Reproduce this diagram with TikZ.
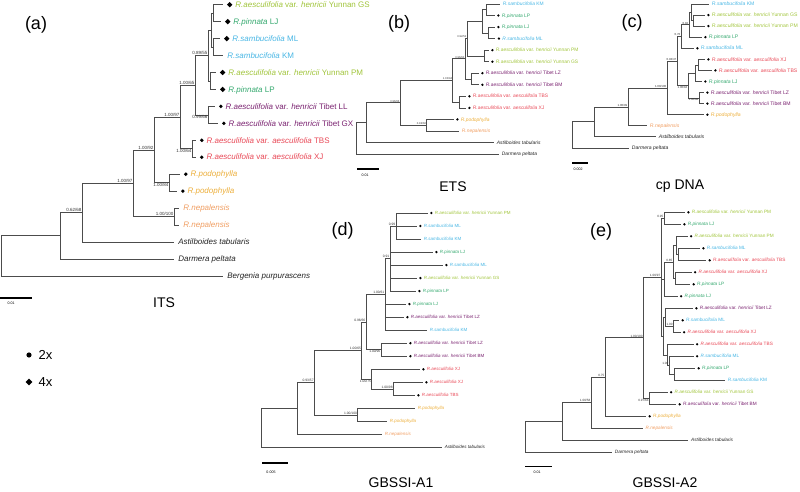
\documentclass[tikz,border=0pt]{standalone}
\usepackage{fontspec}
\setmainfont{Liberation Sans}
\usepackage{tikz}
\usetikzlibrary{positioning}
\usetikzlibrary{shapes.geometric}
\definecolor{cyu}{RGB}{160,196,58}
\definecolor{cpi}{RGB}{52,168,110}
\definecolor{csa}{RGB}{72,182,228}
\definecolor{cti}{RGB}{122,34,112}
\definecolor{cae}{RGB}{232,72,86}
\definecolor{cpo}{RGB}{236,174,58}
\definecolor{cne}{RGB}{240,158,98}
\definecolor{cog}{RGB}{35,35,35}
\tikzset{br/.style = {draw = black!70, line width = 0.6pt}}
\tikzset{tipn/.style = {inner sep = 0, minimum size = 0}}
\tikzset{circ/.style = {fill, circle, inner sep = 0, minimum size = 3.8}}
\tikzset{dmd/.style = {fill, diamond, inner sep = 0, minimum size = 5.6}}
\tikzset{sdot/.style = {fill, circle, inner sep = 0, minimum size = 2.6}}
\tikzset{leaf/.style = {inner sep = 0, text depth = 0pt}}
\tikzset{labA/.style = {leaf, text height = 5.4pt, font = \fontsize{8}{9}\selectfont},
         labB/.style = {leaf, text height = 3.3pt, font = \fontsize{4.9}{5.5}\selectfont},
         labC/.style = {leaf, text height = 3.4pt, font = \fontsize{5.1}{5.7}\selectfont},
         labD/.style = {leaf, text height = 3.0pt, font = \fontsize{4.5}{5}\selectfont},
         labE/.style = {leaf, text height = 3.2pt, font = \fontsize{4.7}{5.2}\selectfont}}
\tikzset{cyu/.style = {text = cyu}, cpi/.style = {text = cpi}, csa/.style = {text = csa},
         cti/.style = {text = cti}, cae/.style = {text = cae}, cpo/.style = {text = cpo},
         cne/.style = {text = cne}, cog/.style = {text = cog}}
\tikzset{bs/.style = {inner sep = 0.5pt, text = black!80}}
\tikzset{bsA/.style = {bs, font = \fontsize{4.5}{5}\selectfont},
         bsB/.style = {bs, font = \fontsize{2.7}{3}\selectfont},
         bsC/.style = {bs, font = \fontsize{2.9}{3.2}\selectfont},
         bsD/.style = {bs, font = \fontsize{3.3}{3.6}\selectfont},
         bsE/.style = {bs, font = \fontsize{3.1}{3.4}\selectfont}}
\tikzset{sbar/.style = {line width = 1.1pt}}
\tikzset{sbl/.style = {inner sep = 0, font = \fontsize{3.6}{4}\selectfont}}
\tikzset{ttl/.style = {inner sep = 0, font = \fontsize{14}{16}\selectfont}}
\tikzset{pnl/.style = {inner sep = 0, font = \fontsize{18}{20}\selectfont}}
\newcommand{\henr}[1]{\textit{R.aesculifolia} var. \textit{henricii} #1}
\newcommand{\aesc}[1]{\textit{R.aesculifolia} var. \textit{aesculifolia} #1}
\newcommand{\pinn}[1]{\textit{R.pinnata} #1}
\newcommand{\samb}[1]{\textit{R.sambucifolia} #1}
\newcommand{\podo}{\textit{R.podophylla}}
\newcommand{\nepa}{\textit{R.nepalensis}}
\newcommand{\mleaf}[5]{\node [tipn] (#1) at (#2) {};
  \node [#3, right = \mgap of #1] (#1m) {};
  \node [#4, right = \lgap of #1m] (#1t) {#5};}
\newcommand{\nleaf}[4]{\node [tipn] (#1) at (#2) {};
  \node [#3, right = \ngap of #1] (#1t) {#4};}

\begin{document}
\begin{tikzpicture}[x = 1pt, y = -1pt]
  \useasboundingbox (0, 0) rectangle (800, 492);

  % (a) ITS
  \def\mgap{3.5pt}\def\lgap{2.5pt}\def\ngap{4pt}
  \mleaf{a1}{223, 4.7}{dmd}{labA, cyu}{\henr{Yunnan GS}}
  \mleaf{a2}{221, 21.65}{dmd}{labA, cpi}{\pinn{LJ}}
  \mleaf{a3}{220, 38.6}{dmd}{labA, csa}{\samb{ML}}
  \nleaf{a4}{223, 55.55}{labA, csa}{\samb{KM}}
  \mleaf{a5}{216, 72.5}{dmd}{labA, cyu}{\henr{Yunnan PM}}
  \mleaf{a6}{216, 89.45}{dmd}{labA, cpi}{\pinn{LP}}
  \mleaf{a7}{215, 106.4}{circ}{labA, cti}{\henr{Tibet LL}}
  \mleaf{a8}{218, 123.35}{circ}{labA, cti}{\henr{Tibet GX}}
  \mleaf{a9}{196, 140.3}{circ}{labA, cae}{\aesc{TBS}}
  \mleaf{a10}{196, 157.25}{circ}{labA, cae}{\aesc{XJ}}
  \mleaf{a11}{180, 174.2}{circ}{labA, cpo}{\podo}
  \mleaf{a12}{177, 191.15}{circ}{labA, cpo}{\podo}
  \nleaf{a13}{179, 208.1}{labA, cne}{\nepa}
  \nleaf{a14}{179, 225.05}{labA, cne}{\nepa}
  \nleaf{a15}{174, 242}{labA, cog}{\textit{Astilboides tabularis}}
  \nleaf{a16}{174, 258.95}{labA, cog}{\textit{Darmera peltata}}
  \nleaf{a17}{223, 275.9}{labA, cog}{\textit{Bergenia purpurascens}}
  \coordinate (aN1) at (213, 13.2);
  \coordinate (aN2) at (213, 47.1);
  \coordinate (aN3) at (211, 30.15);
  \coordinate (aN4) at (210, 81);
  \coordinate (aN5) at (208, 55.6);
  \coordinate (aN6) at (208, 114.9);
  \coordinate (aN7) at (195, 85.25);
  \coordinate (aN8) at (192, 148.8);
  \coordinate (aN9) at (180, 117);
  \coordinate (aN10) at (169, 182.7);
  \coordinate (aN11) at (154, 149.85);
  \coordinate (aN12) at (174, 216.6);
  \coordinate (aN13) at (133, 183.2);
  \coordinate (aN14) at (82, 212.6);
  \coordinate (aN15) at (60, 235.8);
  \coordinate (aN16) at (1, 255.85);
  \draw [br, line width = 0.7pt] (aN1) |- (a1) (aN1) |- (a2);
  \draw [br, line width = 0.7pt] (aN2) |- (a3) (aN2) |- (a4);
  \draw [br, line width = 0.7pt] (aN3) |- (aN1) (aN3) |- (aN2);
  \draw [br, line width = 0.7pt] (aN4) |- (a5) (aN4) |- (a6);
  \draw [br, line width = 0.7pt] (aN5) |- (aN3) (aN5) |- (aN4);
  \draw [br, line width = 0.7pt] (aN6) |- (a7) (aN6) |- (a8);
  \draw [br, line width = 0.7pt] (aN7) |- (aN5) (aN7) |- (aN6);
  \draw [br, line width = 0.7pt] (aN8) |- (a9) (aN8) |- (a10);
  \draw [br, line width = 0.7pt] (aN9) |- (aN7) (aN9) |- (aN8);
  \draw [br, line width = 0.7pt] (aN10) |- (a11) (aN10) |- (a12);
  \draw [br, line width = 0.7pt] (aN11) |- (aN9) (aN11) |- (aN10);
  \draw [br, line width = 0.7pt] (aN12) |- (a13) (aN12) |- (a14);
  \draw [br, line width = 0.7pt] (aN13) |- (aN11) (aN13) |- (aN12);
  \draw [br, line width = 0.7pt] (aN14) |- (aN13) (aN14) |- (a15);
  \draw [br, line width = 0.7pt] (aN15) |- (aN14) (aN15) |- (a16);
  \draw [br, line width = 0.7pt] (aN16) |- (aN15) (aN16) |- (a17);
  \node [bsA, above left] (aN5b) at (aN5) {0.89/55};
  \node [bsA, below left] (aN6b) at (aN6) {0.99/66};
  \node [bsA, above left] (aN7b) at (aN7) {1.00/65};
  \node [bsA, below left] (aN8b) at (aN8) {1.00/64};
  \node [bsA, above left] (aN9b) at (aN9) {1.00/97};
  \node [bsA, below left] (aN10b) at (aN10) {1.00/84};
  \node [bsA, above left] (aN11b) at (aN11) {1.00/92};
  \node [bsA, above left] (aN12b) at (aN12) {1.00/100};
  \node [bsA, above left] (aN13b) at (aN13) {1.00/97};
  \node [bsA, above left] (aN14b) at (aN14) {0.62/68};
  \coordinate (aS1) at (0, 298);
  \coordinate (aS2) at (32, 298);
  \draw [sbar] (aS1) -- (aS2);
  \node [sbl, anchor = north west] (aSt) at (7.5, 302) {0.01};
  \node [ttl] (aT) at (164, 303) {ITS};
  \node [pnl] (aP) at (36, 25) {(a)};

  % legend
  \node [circ, minimum size = 5.2] (k1) at (29, 355) {};
  \node [inner sep = 0, anchor = west, font = \fontsize{13}{15}\selectfont] (k1t) at (38.5, 355) {2x};
  \node [dmd, minimum size = 7] (k2) at (29, 382) {};
  \node [inner sep = 0, anchor = west, font = \fontsize{13}{15}\selectfont] (k2t) at (38.5, 382) {4x};

  % (b) ETS
  \def\mgap{1.7pt}\def\lgap{1.8pt}\def\ngap{2.5pt}
  \nleaf{b1}{500, 4}{labB, csa}{\samb{KM}}
  \mleaf{b2}{495, 15.5}{sdot}{labB, cpi}{\pinn{LP}}
  \mleaf{b3}{495, 27.1}{sdot}{labB, cpi}{\pinn{LJ}}
  \mleaf{b4}{495.5, 38.6}{sdot}{labB, csa}{\samb{ML}}
  \mleaf{b5}{489, 50.2}{sdot}{labB, cyu}{\henr{Yunnan PM}}
  \mleaf{b6}{489, 61.7}{sdot}{labB, cyu}{\henr{Yunnan GS}}
  \mleaf{b7}{479, 73.2}{sdot}{labB, cti}{\henr{Tibet LZ}}
  \mleaf{b8}{479, 84.8}{sdot}{labB, cti}{\henr{Tibet BM}}
  \mleaf{b9}{466, 96.3}{sdot}{labB, cae}{\aesc{TBS}}
  \mleaf{b10}{466, 107.9}{sdot}{labB, cae}{\aesc{XJ}}
  \mleaf{b11}{454, 119.4}{sdot}{labB, cpo}{\podo}
  \nleaf{b12}{459, 130.9}{labB, cne}{\nepa}
  \nleaf{b13}{494, 142.5}{labB, cog}{\textit{Astilboides tabularis}}
  \nleaf{b14}{499, 154}{labB, cog}{\textit{Darmera peltata}}
  \coordinate (bN1) at (486.7, 9.75);
  \coordinate (bN2) at (488.3, 32.85);
  \coordinate (bN3) at (482, 21.3);
  \coordinate (bN4) at (484.3, 55.95);
  \coordinate (bN5) at (467, 38.6);
  \coordinate (bN6) at (471.7, 79);
  \coordinate (bN7) at (465, 58.8);
  \coordinate (bN8) at (459.3, 102.1);
  \coordinate (bN9) at (452.7, 80.45);
  \coordinate (bN10) at (426.7, 125.15);
  \coordinate (bN11) at (400, 102.8);
  \coordinate (bN12) at (366, 122.65);
  \coordinate (bN13) at (356.7, 138.3);
  \draw [br] (bN1) |- (b1) (bN1) |- (b2);
  \draw [br] (bN2) |- (b3) (bN2) |- (b4);
  \draw [br] (bN3) |- (bN1) (bN3) |- (bN2);
  \draw [br] (bN4) |- (b5) (bN4) |- (b6);
  \draw [br] (bN5) |- (bN3) (bN5) |- (bN4);
  \draw [br] (bN6) |- (b7) (bN6) |- (b8);
  \draw [br] (bN7) |- (bN5) (bN7) |- (bN6);
  \draw [br] (bN8) |- (b9) (bN8) |- (b10);
  \draw [br] (bN9) |- (bN7) (bN9) |- (bN8);
  \draw [br] (bN10) |- (b11) (bN10) |- (b12);
  \draw [br] (bN11) |- (bN9) (bN11) |- (bN10);
  \draw [br] (bN12) |- (bN11) (bN12) |- (b13);
  \draw [br] (bN13) |- (bN12) (bN13) |- (b14);
  \node [bsB, above left] (bN5b) at (bN5) {0.92/52};
  \node [bsB, above left] (bN7b) at (bN7) {0.96/60};
  \node [bsB, above left] (bN9b) at (bN9) {1.00/94};
  \node [bsB, above left] (bN10b) at (bN10) {0.92/60};
  \node [bsB, above left] (bN11b) at (bN11) {0.96/95};
  \coordinate (bS1) at (357, 169);
  \coordinate (bS2) at (379, 169);
  \draw [sbar] (bS1) -- (bS2);
  \node [sbl] (bSt) at (365, 175) {0.01};
  \node [ttl] (bT) at (453, 187) {ETS};
  \node [pnl] (bP) at (399, 24) {(b)};

  % (c) cp DNA
  \nleaf{c1}{709, 4}{labC, csa}{\samb{KM}}
  \mleaf{c2}{705, 15.1}{sdot}{labC, cyu}{\henr{Yunnan GS}}
  \mleaf{c3}{705, 26.1}{sdot}{labC, cyu}{\henr{Yunnan PM}}
  \mleaf{c4}{702, 37.2}{sdot}{labC, cpi}{\pinn{LP}}
  \mleaf{c5}{694, 48.3}{sdot}{labC, csa}{\samb{ML}}
  \mleaf{c6}{705, 59.4}{sdot}{labC, cae}{\aesc{XJ}}
  \mleaf{c7}{712, 70.4}{sdot}{labC, cae}{\aesc{TBS}}
  \mleaf{c8}{702, 81.5}{sdot}{labC, cpi}{\pinn{LJ}}
  \mleaf{c9}{704, 92.6}{sdot}{labC, cti}{\henr{Tibet LZ}}
  \mleaf{c10}{704, 103.6}{sdot}{labC, cti}{\henr{Tibet BM}}
  \mleaf{c11}{704, 114.7}{sdot}{labC, cpo}{\podo}
  \nleaf{c12}{647, 125.8}{labC, cne}{\nepa}
  \nleaf{c13}{656, 136.8}{labC, cog}{\textit{Astilboides tabularis}}
  \nleaf{c14}{629, 147.9}{labC, cog}{\textit{Darmera peltata}}
  \coordinate (cN1) at (693, 20.6);
  \coordinate (cN2) at (691, 12.3);
  \coordinate (cN3) at (689, 24.75);
  \coordinate (cN4) at (681, 36.5);
  \coordinate (cN5) at (698, 64.9);
  \coordinate (cN6) at (695, 73.2);
  \coordinate (cN7) at (699, 98.1);
  \coordinate (cN8) at (688, 85.65);
  \coordinate (cN9) at (677, 61.1);
  \coordinate (cN10) at (667, 87.9);
  \coordinate (cN11) at (628, 106.85);
  \coordinate (cN12) at (594, 121.8);
  \coordinate (cN13) at (572, 134.85);
  \draw [br] (cN1) |- (c2) (cN1) |- (c3);
  \draw [br] (cN2) |- (c1) (cN2) |- (cN1);
  \draw [br] (cN3) |- (cN2) (cN3) |- (c4);
  \draw [br] (cN4) |- (cN3) (cN4) |- (c5);
  \draw [br] (cN5) |- (c6) (cN5) |- (c7);
  \draw [br] (cN6) |- (cN5) (cN6) |- (c8);
  \draw [br] (cN7) |- (c9) (cN7) |- (c10);
  \draw [br] (cN8) |- (cN6) (cN8) |- (cN7);
  \draw [br] (cN9) |- (cN4) (cN9) |- (cN8);
  \draw [br] (cN10) |- (cN9) (cN10) |- (c11);
  \draw [br] (cN11) |- (cN10) (cN11) |- (c12);
  \draw [br] (cN12) |- (cN11) (cN12) |- (c13);
  \draw [br] (cN13) |- (cN12) (cN13) |- (c14);
  \node [bsC, above left] (cN3b) at (cN3) {0.82};
  \node [bsC, above left] (cN4b) at (cN4) {0.76};
  \node [bsC, below left] (cN7b) at (cN7) {1.00/98};
  \node [bsC, below left] (cN8b) at (cN8) {1.00/84};
  \node [bsC, above left] (cN9b) at (cN9) {0.93/47};
  \node [bsC, above left] (cN10b) at (cN10) {1.00/100};
  \node [bsC, above left] (cN11b) at (cN11) {1.00/99};
  \coordinate (cS1) at (572, 163);
  \coordinate (cS2) at (588, 163);
  \draw [sbar] (cS1) -- (cS2);
  \node [sbl] (cSt) at (578, 169) {0.002};
  \node [ttl] (cT) at (680, 186) {cp DNA};
  \node [pnl] (cP) at (632, 23) {(c)};

  % (d) GBSSI-A1
  \mleaf{d1}{428, 213}{sdot}{labD, cyu}{\henr{Yunnan PM}}
  \mleaf{d2}{417, 226}{sdot}{labD, csa}{\samb{ML}}
  \nleaf{d3}{421, 239.1}{labD, csa}{\samb{KM}}
  \mleaf{d4}{433, 252.1}{sdot}{labD, cpi}{\pinn{LJ}}
  \mleaf{d5}{443, 265.1}{sdot}{labD, csa}{\samb{ML}}
  \mleaf{d6}{417, 278.1}{sdot}{labD, cyu}{\henr{Yunnan GS}}
  \mleaf{d7}{416, 291.1}{sdot}{labD, cpi}{\pinn{LP}}
  \mleaf{d8}{406, 304.1}{sdot}{labD, cpi}{\pinn{LJ}}
  \mleaf{d9}{404, 317.2}{sdot}{labD, cti}{\henr{Tibet LZ}}
  \nleaf{d10}{427, 330.2}{labD, csa}{\samb{KM}}
  \mleaf{d11}{407, 343.2}{sdot}{labD, cti}{\henr{Tibet LZ}}
  \mleaf{d12}{407, 356.2}{sdot}{labD, cti}{\henr{Tibet BM}}
  \mleaf{d13}{420, 369.3}{sdot}{labD, cae}{\textit{R.aesculifolia} XJ}
  \mleaf{d14}{423, 382.3}{sdot}{labD, cae}{\textit{R.aesculifolia} XJ}
  \mleaf{d15}{415, 395.3}{sdot}{labD, cae}{\textit{R.aesculifolia} TBS}
  \nleaf{d16}{415, 408.3}{labD, cpo}{\podo}
  \nleaf{d17}{387, 421.3}{labD, cpo}{\podo}
  \nleaf{d18}{382, 434.4}{labD, cne}{\nepa}
  \nleaf{d19}{442, 447.4}{labD, cog}{\textit{Astilboides tabularis}}
  \coordinate (dN1) at (396, 226.05);
  \coordinate (dN2) at (390, 258.6);
  \coordinate (dN3) at (385, 294.4);
  \coordinate (dN4) at (381, 349.7);
  \coordinate (dN5) at (366, 322.05);
  \coordinate (dN6) at (393.3, 388.8);
  \coordinate (dN7) at (371.7, 379.05);
  \coordinate (dN8) at (361.7, 350.55);
  \coordinate (dN9) at (357.7, 414.8);
  \coordinate (dN10) at (314.3, 382.7);
  \coordinate (dN11) at (297.7, 408.55);
  \coordinate (dN12) at (261.7, 427.95);
  \draw [br] (dN1) |- (d1) (dN1) |- (d2) (dN1) |- (d3);
  \draw [br] (dN2) |- (dN1) (dN2) |- (d4) (dN2) |- (d5) (dN2) |- (d6) (dN2) |- (d7);
  \draw [br] (dN3) |- (dN2) (dN3) |- (d8) (dN3) |- (d9) (dN3) |- (d10);
  \draw [br] (dN4) |- (d11) (dN4) |- (d12);
  \draw [br] (dN5) |- (dN3) (dN5) |- (dN4);
  \draw [br] (dN6) |- (d14) (dN6) |- (d15);
  \draw [br] (dN7) |- (d13) (dN7) |- (dN6);
  \draw [br] (dN8) |- (dN5) (dN8) |- (dN7);
  \draw [br] (dN9) |- (d16) (dN9) |- (d17);
  \draw [br] (dN10) |- (dN8) (dN10) |- (dN9);
  \draw [br] (dN11) |- (dN10) (dN11) |- (d18);
  \draw [br] (dN12) |- (dN11) (dN12) |- (d19);
  \node [bsD, above left] (dN1b) at (dN1) {0.99};
  \node [bsD, above left] (dN2b) at (dN2) {0.91};
  \node [bsD, above left] (dN3b) at (dN3) {1.00/61};
  \node [bsD, below left] (dN4b) at (dN4) {1.00/96};
  \node [bsD, above left] (dN5b) at (dN5) {0.96/66};
  \node [bsD, above left] (dN6b) at (dN6) {1.00/98};
  \node [bsD, below left] (dN7b) at (dN7) {1.00/75};
  \node [bsD, above left] (dN8b) at (dN8) {1.00/65};
  \node [bsD, above left] (dN9b) at (dN9) {1.00/100};
  \node [bsD, above left] (dN10b) at (dN10) {0.93/57};
  \coordinate (dS1) at (262, 463);
  \coordinate (dS2) at (288, 463);
  \draw [sbar] (dS1) -- (dS2);
  \node [sbl] (dSt) at (271, 472.5) {0.005};
  \node [ttl] (dT) at (401, 482.5) {GBSSI-A1};
  \node [pnl] (dP) at (342.7, 230.7) {(d)};

  % (e) GBSSI-A2
  \mleaf{e1}{685, 212.3}{sdot}{labE, cyu}{\henr{Yunnan PM}}
  \mleaf{e2}{681, 224.3}{sdot}{labE, cpi}{\pinn{LJ}}
  \mleaf{e3}{687.7, 236.3}{sdot}{labE, cyu}{\henr{Yunnan PM}}
  \mleaf{e4}{700, 248.3}{sdot}{labE, csa}{\samb{ML}}
  \mleaf{e5}{706.3, 260.3}{sdot}{labE, cae}{\aesc{TBS}}
  \mleaf{e6}{691.7, 272.3}{sdot}{labE, cae}{\aesc{XJ}}
  \mleaf{e7}{690.3, 284.3}{sdot}{labE, cpi}{\pinn{LP}}
  \mleaf{e8}{677.7, 296.3}{sdot}{labE, cpi}{\pinn{LJ}}
  \mleaf{e9}{693, 308.3}{sdot}{labE, cti}{\henr{Tibet LZ}}
  \mleaf{e10}{679.3, 320.3}{sdot}{labE, csa}{\samb{ML}}
  \mleaf{e11}{680.7, 332.3}{sdot}{labE, cae}{\aesc{XJ}}
  \mleaf{e12}{693.7, 344.3}{sdot}{labE, cae}{\aesc{TBS}}
  \mleaf{e13}{693.7, 356.3}{sdot}{labE, csa}{\samb{ML}}
  \mleaf{e14}{695.3, 368.3}{sdot}{labE, cpi}{\pinn{LP}}
  \nleaf{e15}{725, 380.3}{labE, csa}{\samb{KM}}
  \mleaf{e16}{667.7, 392.3}{sdot}{labE, cyu}{\henr{Yunnan GS}}
  \mleaf{e17}{676.3, 404.3}{sdot}{labE, cti}{\henr{Tibet BM}}
  \mleaf{e18}{646.3, 416.3}{sdot}{labE, cpo}{\podo}
  \nleaf{e19}{642.7, 428.3}{labE, cne}{\nepa}
  \nleaf{e20}{688.3, 440.3}{labE, cog}{\textit{Astilboides tabularis}}
  \nleaf{e21}{612, 452.3}{labE, cog}{\textit{Darmera peltata}}
  \coordinate (eN1) at (664, 218.3);
  \coordinate (eN2) at (678, 254.3);
  \coordinate (eN3) at (676, 245.3);
  \coordinate (eN4) at (675.5, 278.3);
  \coordinate (eN5) at (673, 261.8);
  \coordinate (eN6) at (664.5, 279.05);
  \coordinate (eN7) at (673.3, 326.3);
  \coordinate (eN8) at (665.7, 317.3);
  \coordinate (eN9) at (674, 374.3);
  \coordinate (eN10) at (669, 365.3);
  \coordinate (eN11) at (667, 354.8);
  \coordinate (eN12) at (663, 336.05);
  \coordinate (eN13) at (661, 277.2);
  \coordinate (eN14) at (649.3, 398.3);
  \coordinate (eN15) at (643.3, 337.75);
  \coordinate (eN16) at (605, 377.05);
  \coordinate (eN17) at (591, 402.7);
  \coordinate (eN18) at (562.7, 421.5);
  \coordinate (eN19) at (525, 436.9);
  \draw [br] (eN1) |- (e1) (eN1) |- (e2);
  \draw [br] (eN2) |- (e4) (eN2) |- (e5);
  \draw [br] (eN3) |- (e3) (eN3) |- (eN2);
  \draw [br] (eN4) |- (e6) (eN4) |- (e7);
  \draw [br] (eN5) |- (eN3) (eN5) |- (eN4);
  \draw [br] (eN6) |- (eN5) (eN6) |- (e8);
  \draw [br] (eN7) |- (e10) (eN7) |- (e11);
  \draw [br] (eN8) |- (e9) (eN8) |- (eN7);
  \draw [br] (eN9) |- (e14) (eN9) |- (e15);
  \draw [br] (eN10) |- (e13) (eN10) |- (eN9);
  \draw [br] (eN11) |- (e12) (eN11) |- (eN10);
  \draw [br] (eN12) |- (eN8) (eN12) |- (eN11);
  \draw [br] (eN13) |- (eN1) (eN13) |- (eN6) (eN13) |- (eN12);
  \draw [br] (eN14) |- (e16) (eN14) |- (e17);
  \draw [br] (eN15) |- (eN13) (eN15) |- (eN14);
  \draw [br] (eN16) |- (eN15) (eN16) |- (e18);
  \draw [br] (eN17) |- (eN16) (eN17) |- (e19);
  \draw [br] (eN18) |- (eN17) (eN18) |- (e20);
  \draw [br] (eN19) |- (eN18) (eN19) |- (e21);
  \node [bsE, above left] (eN1b) at (eN1) {0.95};
  \node [bsE, above left] (eN5b) at (eN5) {0.85};
  \node [bsE, above left] (eN7b) at (eN7) {1.00};
  \node [bsE, above left] (eN10b) at (eN10) {1.00};
  \node [bsE, above left] (eN13b) at (eN13) {1.00/97};
  \node [bsE, below left] (eN14b) at (eN14) {0.97/64};
  \node [bsE, above left] (eN15b) at (eN15) {1.00/100};
  \node [bsE, above left] (eN16b) at (eN16) {0.75};
  \node [bsE, above left] (eN17b) at (eN17) {1.00/58};
  \coordinate (eS1) at (525, 466.7);
  \coordinate (eS2) at (551.7, 466.7);
  \draw [sbar] (eS1) -- (eS2);
  \node [sbl] (eSt) at (537, 472) {0.01};
  \node [ttl] (eT) at (665, 482.5) {GBSSI-A2};
  \node [pnl] (eP) at (601, 232) {(e)};
\end{tikzpicture}
\end{document}
